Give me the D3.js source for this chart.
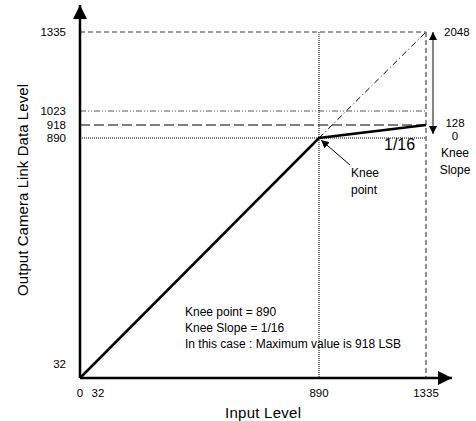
<!DOCTYPE html>
<html>
<head>
<meta charset="utf-8">
<script src="https://cdn.jsdelivr.net/npm/d3@7"></script>
<style>
body { margin: 0; background: #fff; }
text { font-family: "Liberation Sans", Arial, sans-serif; fill: #000; }
</style>
</head>
<body>
<div id="chart"></div>
<script>
// knee response data
var inputTicks = [0, 32, 890, 1335];
var outputTicks = [32, 890, 918, 1023, 1335];
var kneeCurve = [[0, 0], [890, 890], [1335, 918]];
var linearRef = [[890, 890], [1335, 1335]];
var kneePoint = 890, maxValue = 918, clipLevel = 1023, fullScale = 1335;
var slopeLabels = ["2048", "128", "0", "Knee", "Slope"];
var notes = ["Knee point = 890", "Knee Slope = 1/16", "In this case : Maximum value is 918 LSB"];

var w = 476, h = 421;

var svg = d3.select("#chart").append("svg")
	.attr("width", w)
	.attr("height", h);

// schematic (not linear) scales
var x = d3.scaleLinear()
	.domain([0, 32, 890, 1335])
	.range([80, 98, 319, 426]);
var y = d3.scaleLinear()
	.domain([0, 32, 890, 918, 1023, 1335])
	.range([378, 364, 138, 125, 111, 32]);

var defs = svg.append("defs");
function marker(id, size) {
	defs.append("marker")
		.attr("id", id)
		.attr("viewBox", "0 0 10 10")
		.attr("refX", 10).attr("refY", 5)
		.attr("markerWidth", size).attr("markerHeight", size)
		.attr("markerUnits", "userSpaceOnUse")
		.attr("orient", "auto-start-reverse")
		.append("path")
		.attr("d", "M0,0L10,5L0,10z")
		.attr("fill", "#000");
}
marker("bigArrow", 14);
marker("smallArrow", 8);

function hline(v, x1, dash, color, width) {
	svg.append("line")
		.attr("x1", x(0)).attr("x2", x(x1))
		.attr("y1", y(v)).attr("y2", y(v))
		.attr("stroke", color).attr("stroke-width", width)
		.attr("stroke-dasharray", dash);
}

// reference lines
hline(fullScale, fullScale, "5,3", "#333", 1.2);
hline(clipLevel, fullScale, "6,2,1,2,1,2", "#555", 1);
hline(maxValue, fullScale, "10,4", "#000", 1.2);
hline(kneePoint, fullScale, "1,1", "#000", 1);

svg.append("line")
	.attr("x1", x(fullScale)).attr("x2", x(fullScale))
	.attr("y1", y(fullScale)).attr("y2", y(0))
	.attr("stroke", "#555").attr("stroke-width", 1.3)
	.attr("stroke-dasharray", "5,3");

svg.append("line")
	.attr("x1", x(kneePoint)).attr("x2", x(kneePoint))
	.attr("y1", y(fullScale)).attr("y2", y(0))
	.attr("stroke", "#000").attr("stroke-width", 1)
	.attr("stroke-dasharray", "1,1");

var line = d3.line()
	.x(function(d) { return x(d[0]); })
	.y(function(d) { return y(d[1]); });

svg.append("path")
	.datum(linearRef)
	.attr("d", line)
	.attr("fill", "none")
	.attr("stroke", "#000").attr("stroke-width", 1)
	.attr("stroke-dasharray", "6,3,1,3");

svg.append("path")
	.datum(kneeCurve)
	.attr("d", line)
	.attr("fill", "none")
	.attr("stroke", "#000").attr("stroke-width", 2.5);

// axes
svg.append("line")
	.attr("x1", x(0)).attr("y1", y(0))
	.attr("x2", 452).attr("y2", y(0))
	.attr("stroke", "#000").attr("stroke-width", 2.5)
	.attr("marker-end", "url(#bigArrow)");
svg.append("line")
	.attr("x1", x(0)).attr("y1", y(0))
	.attr("x2", x(0)).attr("y2", 5)
	.attr("stroke", "#000").attr("stroke-width", 2.5)
	.attr("marker-end", "url(#bigArrow)");

svg.selectAll(".xt")
	.data(inputTicks)
	.enter().append("text")
	.attr("x", function(d) { return x(d); })
	.attr("y", 397)
	.attr("text-anchor", "middle")
	.attr("font-size", "11.5px")
	.text(function(d) { return d; });

svg.selectAll(".yt")
	.data(outputTicks)
	.enter().append("text")
	.attr("x", 66)
	.attr("y", function(d) { return y(d) + 4; })
	.attr("text-anchor", "end")
	.attr("font-size", "11.5px")
	.text(function(d) { return d; });

svg.append("text")
	.attr("x", 263).attr("y", 418)
	.attr("text-anchor", "middle")
	.attr("font-size", "15px")
	.attr("textLength", 76)
	.attr("lengthAdjust", "spacing")
	.text("Input Level");

svg.append("text")
	.attr("transform", "translate(28,190) rotate(-90)")
	.attr("text-anchor", "middle")
	.attr("font-size", "15px")
	.attr("textLength", 212)
	.attr("lengthAdjust", "spacing")
	.text("Output Camera Link Data Level");

// slope annotation
svg.append("line")
	.attr("x1", 433).attr("x2", 433)
	.attr("y1", y(fullScale)).attr("y2", y(kneePoint) - 4)
	.attr("stroke", "#333").attr("stroke-width", 1.2)
	.attr("marker-start", "url(#smallArrow)")
	.attr("marker-end", "url(#smallArrow)");

var slopeY = [36, 127, 140, 157, 174];
svg.selectAll(".sl")
	.data(slopeLabels)
	.enter().append("text")
	.attr("x", function(d, i) { return i == 0 ? 444 : 455; })
	.attr("y", function(d, i) { return slopeY[i]; })
	.attr("text-anchor", function(d, i) { return i == 0 ? "start" : "middle"; })
	.attr("font-size", function(d, i) { return i < 3 ? "11.5px" : "12px"; })
	.text(function(d) { return d; });

svg.append("text")
	.attr("x", 384).attr("y", 150)
	.attr("font-size", "16px")
	.text("1/16");

// knee point callout
svg.append("line")
	.attr("x1", 350).attr("y1", 165)
	.attr("x2", x(kneePoint) + 2).attr("y2", y(kneePoint) + 2)
	.attr("stroke", "#000").attr("stroke-width", 1)
	.attr("marker-end", "url(#smallArrow)");
svg.append("text")
	.attr("x", 351).attr("y", 177)
	.attr("font-size", "12px")
	.text("Knee");
svg.append("text")
	.attr("x", 351).attr("y", 194)
	.attr("font-size", "12px")
	.text("point");

svg.selectAll(".note")
	.data(notes)
	.enter().append("text")
	.attr("x", 185)
	.attr("y", function(d, i) { return 316 + i * 16; })
	.attr("font-size", "12px")
	.text(function(d) { return d; });
</script>
</body>
</html>
